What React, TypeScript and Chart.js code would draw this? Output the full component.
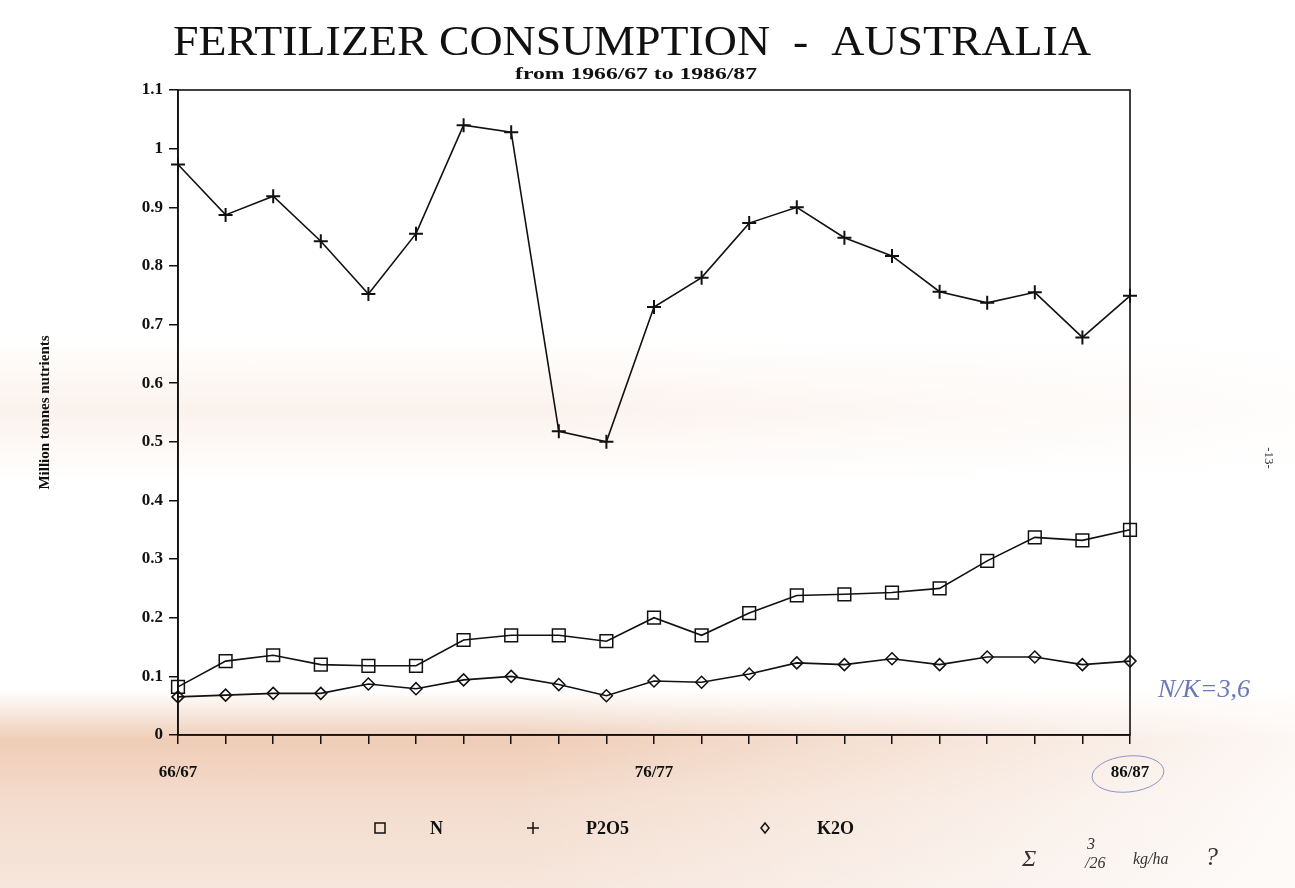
import React, { useEffect, useRef } from "react";
import { Chart, registerables } from "chart.js";

Chart.register(...registerables);

const seasons = [
  "66/67", "67/68", "68/69", "69/70", "70/71", "71/72", "72/73", "73/74", "74/75", "75/76",
  "76/77", "77/78", "78/79", "79/80", "80/81", "81/82", "82/83", "83/84", "84/85", "85/86", "86/87",
];
const shownLabels = ["66/67", "76/77", "86/87"];

const nValues = [
  0.082, 0.126, 0.136, 0.12, 0.118, 0.118, 0.162, 0.17, 0.17, 0.16,
  0.2, 0.17, 0.208, 0.238, 0.24, 0.243, 0.25, 0.297, 0.337, 0.332, 0.35,
];
const p2o5Values = [
  0.973, 0.887, 0.919, 0.842, 0.752, 0.855, 1.04, 1.028, 0.518, 0.5,
  0.73, 0.78, 0.873, 0.9, 0.848, 0.817, 0.756, 0.737, 0.755, 0.678, 0.749,
];
const k2oValues = [
  0.065, 0.068, 0.071, 0.071, 0.087, 0.079, 0.094, 0.1, 0.086, 0.067,
  0.092, 0.09, 0.104, 0.123, 0.12, 0.13, 0.12, 0.133, 0.133, 0.12, 0.126,
];

const yTicks = [0, 0.1, 0.2, 0.3, 0.4, 0.5, 0.6, 0.7, 0.8, 0.9, 1, 1.1];

const titleText = "FERTILIZER CONSUMPTION  -  AUSTRALIA";
const subtitleText = "from 1966/67 to 1986/87";
const yTitle = "Million tonnes nutrients";

const SERIF = "'Liberation Serif', 'DejaVu Serif', serif";

const decorPlugin = {
  id: "decor",
  afterDraw(chart: any) {
    const ctx = chart.ctx;
    const a = chart.chartArea;
    ctx.save();
    // frame
    ctx.strokeStyle = "#111";
    ctx.lineWidth = 1.6;
    ctx.strokeRect(a.left, a.top, a.right - a.left, a.bottom - a.top);

    // title (stretched to the reference width)
    ctx.fillStyle = "#111";
    ctx.textBaseline = "alphabetic";
    ctx.font = `42px ${SERIF}`;
    const tw = ctx.measureText(titleText).width;
    const target = 918;
    ctx.save();
    ctx.translate(173, 55);
    ctx.scale(target / tw, 1);
    ctx.textAlign = "left";
    ctx.fillText(titleText, 0, 0);
    ctx.restore();

    // subtitle
    ctx.font = `bold 17px ${SERIF}`;
    const sw = ctx.measureText(subtitleText).width;
    ctx.save();
    ctx.translate(515, 79);
    ctx.scale(242 / sw, 1);
    ctx.fillText(subtitleText, 0, 0);
    ctx.restore();

    // legend
    const ly = 828;
    ctx.strokeStyle = "#111";
    ctx.lineWidth = 1.5;
    ctx.strokeRect(375, ly - 5, 10, 10);
    ctx.beginPath();
    ctx.moveTo(533, ly - 6);
    ctx.lineTo(533, ly + 6);
    ctx.moveTo(527, ly);
    ctx.lineTo(539, ly);
    ctx.stroke();
    ctx.beginPath();
    ctx.moveTo(765, ly - 5);
    ctx.lineTo(769, ly);
    ctx.lineTo(765, ly + 5);
    ctx.lineTo(761, ly);
    ctx.closePath();
    ctx.stroke();
    ctx.font = `bold 18px ${SERIF}`;
    ctx.textBaseline = "middle";
    ctx.textAlign = "left";
    ctx.fillText("N", 430, ly + 1);
    ctx.fillText("P2O5", 586, ly + 1);
    ctx.fillText("K2O", 817, ly + 1);

    // page number
    ctx.save();
    ctx.translate(1268, 458);
    ctx.rotate(Math.PI / 2);
    ctx.font = `13px ${SERIF}`;
    ctx.fillStyle = "#333";
    ctx.textAlign = "center";
    ctx.fillText("-13-", 0, 0);
    ctx.restore();

    // handwritten notes
    ctx.fillStyle = "#6a78b8";
    ctx.strokeStyle = "#8a93c4";
    ctx.lineWidth = 1;
    ctx.font = `italic 26px ${SERIF}`;
    ctx.textAlign = "left";
    ctx.fillText("N/K=3,6", 1158, 690);
    ctx.beginPath();
    ctx.ellipse(1128, 774, 36, 18, -0.1, 0, Math.PI * 2);
    ctx.stroke();
    ctx.fillStyle = "#333";
    ctx.font = `italic 24px ${SERIF}`;
    ctx.fillText("\u03A3", 1022, 860);
    ctx.font = `italic 16px ${SERIF}`;
    ctx.fillText("3", 1087, 845);
    ctx.fillText("/26", 1085, 864);
    ctx.fillText("kg/ha", 1133, 860);
    ctx.font = `italic 26px ${SERIF}`;
    ctx.fillText("?", 1205, 858);
    ctx.restore();
  },
};

export default function App() {
  const ref = useRef<HTMLCanvasElement | null>(null);

  useEffect(() => {
    if (!ref.current) return;
    const common = {
      borderColor: "#111",
      borderWidth: 1.6,
      pointBorderColor: "#111",
      pointBackgroundColor: "rgba(0,0,0,0)",
      pointBorderWidth: 1.5,
      tension: 0,
      fill: false,
    };
    const chart = new Chart(ref.current, {
      type: "line",
      data: {
        labels: seasons,
        datasets: [
          { label: "N", data: nValues, pointStyle: "rect", pointRadius: 9, ...common },
          { label: "P2O5", data: p2o5Values, pointStyle: "cross", pointRadius: 7, ...common, pointBorderWidth: 2 },
          { label: "K2O", data: k2oValues, pointStyle: "rectRot", pointRadius: 6, ...common },
        ],
      },
      options: {
        responsive: false,
        animation: false,
        events: [],
        layout: { padding: { left: 0, right: 165, top: 90, bottom: 103 } },
        plugins: {
          legend: { display: false },
          title: { display: false },
          tooltip: { enabled: false },
        },
        scales: {
          x: {
            type: "category",
            offset: false,
            afterFit: (s: any) => {
              s.height = 50;
            },
            grid: {
              display: true,
              drawOnChartArea: false,
              drawTicks: true,
              tickLength: 9,
              color: "#111",
              lineWidth: 1.5,
            },
            border: { display: true, color: "#111", width: 1.6 },
            ticks: {
              autoSkip: false,
              maxRotation: 0,
              minRotation: 0,
              padding: 18,
              color: "#111",
              font: { family: SERIF, size: 17, weight: "bold" },
              callback: (_v: any, i: number) =>
                shownLabels.includes(seasons[i]) ? seasons[i] : "",
            },
          },
          y: {
            type: "linear",
            min: 0,
            max: 1.1,
            afterFit: (s: any) => {
              s.width = 178;
            },
            afterBuildTicks: (s: any) => {
              s.ticks = yTicks.map((v) => ({ value: v }));
            },
            grid: {
              display: true,
              drawOnChartArea: false,
              drawTicks: true,
              tickLength: 9,
              color: "#111",
              lineWidth: 1.5,
            },
            border: { display: true, color: "#111", width: 1.6 },
            ticks: {
              padding: 6,
              color: "#111",
              font: { family: SERIF, size: 17, weight: "bold" },
              callback: (v: any) => {
                const s = Number(v).toFixed(1);
                return s.endsWith(".0") ? s.slice(0, -2) : s;
              },
            },
            title: {
              display: true,
              text: yTitle,
              color: "#111",
              font: { family: SERIF, size: 15, weight: "bold" },
              padding: { top: 36, bottom: 0 },
            },
          },
        },
      },
      plugins: [decorPlugin],
    } as any);
    return () => chart.destroy();
  }, []);

  return (
    <div
      style={{
        position: "fixed",
        left: 0,
        top: 0,
        width: 1295,
        height: 888,
        background:
          "linear-gradient(90deg, rgba(255,255,255,0) 0%, rgba(255,255,255,0) 40%, rgba(255,255,255,0.85) 100%), " +
          "linear-gradient(180deg, rgba(255,255,255,0) 0px, rgba(255,255,255,0) 340px, rgba(244,218,202,0.35) 410px, rgba(255,255,255,0) 480px), " +
          "linear-gradient(180deg, #ffffff 0px, #ffffff 690px, #efcdb7 740px, #f3dccd 800px, #f6e6dc 888px)",
      }}
    >
      <canvas ref={ref} width={1295} height={888} style={{ display: "block" }} />
    </div>
  );
}
